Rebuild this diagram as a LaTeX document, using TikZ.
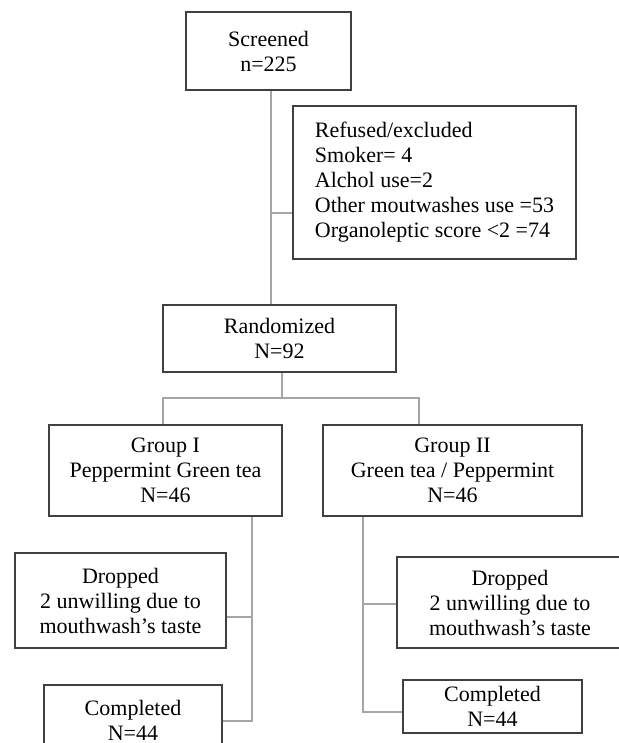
\documentclass[tikz,border=0pt]{standalone}
\usepackage{fontspec}
\setmainfont{Liberation Serif}
\usetikzlibrary{positioning}

\begin{document}
\begin{tikzpicture}[
    x=0.5pt, y=-0.5pt,
    box/.style={rectangle, draw=black!75, line width=1pt, fill=white,
                align=center, inner sep=2pt,
                font=\fontsize{11}{12.5}\selectfont},
    link/.style={draw=black!35, line width=1pt}
]
\clip (0,0) rectangle (619,743);
\fill[white] (0,0) rectangle (619,743);

\node[box, minimum width=82.5pt, minimum height=39pt]   (scr)   at (268.5,51)    {Screened\\n=225};
\node[box, minimum width=141.5pt, minimum height=76.5pt, align=left] (ref) at (434.5,182.5)
    {Refused/excluded\\Smoker= 4\\Alchol use=2\\Other moutwashes use =53\\Organoleptic score <2 =74};
\node[box, minimum width=116.5pt, minimum height=33.5pt] (rand)  at (279.5,338.5)  {Randomized\\N=92};
\node[box, minimum width=116.5pt, minimum height=45.5pt] (grpA)  at (165.5,470.5)  {Group I\\Peppermint Green tea\\N=46};
\node[box, minimum width=129.5pt, minimum height=45.5pt] (grpB)  at (452.5,470.5)  {Group II\\Green tea / Peppermint\\N=46};
\node[box, minimum width=105.5pt, minimum height=47.5pt] (dropA) at (120.5,600.5)  {Dropped\\2 unwilling due to\\mouthwash's taste};
\node[box, minimum width=113pt, minimum height=45.5pt]   (dropB) at (510,602.5)    {Dropped\\2 unwilling due to\\mouthwash's taste};
\node[box, minimum width=89pt, minimum height=35pt]      (doneA) at (133,720)      {Completed\\N=44};
\node[box, minimum width=89.5pt, minimum height=26.5pt]  (doneB) at (492.5,706.5)  {Completed\\N=44};

% joints of the connectors
\coordinate (j1) at (271,213);
\coordinate (j2) at (282,398);
\coordinate (ja) at (163,398);
\coordinate (jb) at (419,398);
\coordinate (ka) at (252,617);
\coordinate (ca) at (252,721);
\coordinate (kb) at (363,604);
\coordinate (cb) at (363,712);

\draw[link] (scr.south -| j1) -- (j1 |- rand.north);
\draw[link] (j1) -- (j1 -| ref.west);
\draw[link] (rand.south -| j2) -- (j2);
\draw[link] (ja |- grpA.north) -- (ja) -- (jb) -- (jb |- grpB.north);

\draw[link] (grpA.south -| ka) -- (ca) -- (ca -| doneA.east);
\draw[link] (grpB.south -| kb) -- (cb) -- (cb -| doneB.west);
\foreach \k/\b in {ka/dropA.east, kb/dropB.west}
    \draw[link] (\k) -- (\k -| \b);
\end{tikzpicture}
\end{document}
